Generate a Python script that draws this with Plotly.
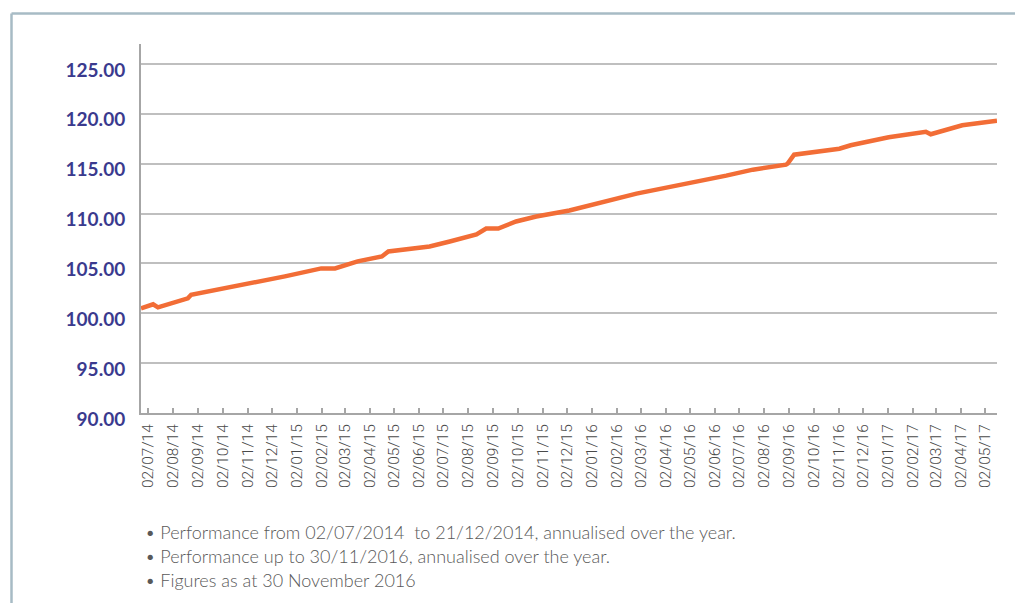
import plotly.graph_objects as go
import pandas as pd

# ---- data ----
dates = ["2014-06-23", "2014-07-08", "2014-07-14", "2014-08-20", "2014-08-24",
         "2014-12-10", "2014-12-18", "2015-02-01", "2015-02-18", "2015-03-18",
         "2015-04-17", "2015-04-25", "2015-06-15", "2015-07-10", "2015-08-12",
         "2015-08-24", "2015-09-08", "2015-09-30", "2015-10-25", "2015-12-05",
         "2016-02-26", "2016-06-16", "2016-07-19", "2016-08-29", "2016-08-31",
         "2016-09-08", "2016-11-03", "2016-11-17", "2017-01-03", "2017-02-18",
         "2017-02-24", "2017-04-04", "2017-05-17"]
values = [100.5, 100.9, 100.6, 101.5, 101.85,
          103.5, 103.7, 104.5, 104.5, 105.2,
          105.7, 106.2, 106.7, 107.2, 107.9,
          108.5, 108.5, 109.2, 109.7, 110.3,
          112.0, 113.8, 114.4, 114.9, 115.0,
          115.9, 116.5, 116.85, 117.65, 118.2,
          117.95, 118.85, 119.3]

tick_labels = ["02/07/14", "02/08/14", "02/09/14", "02/10/14", "02/11/14", "02/12/14",
               "02/01/15", "02/02/15", "02/03/15", "02/04/15", "02/05/15", "02/06/15",
               "02/07/15", "02/08/15", "02/09/15", "02/10/15", "02/11/15", "02/12/15",
               "02/01/16", "02/02/16", "02/03/16", "02/04/16", "02/05/16", "02/06/16",
               "02/07/16", "02/08/16", "02/09/16", "02/10/16", "02/11/16", "02/12/16",
               "02/01/17", "02/02/17", "02/03/17", "02/04/17", "02/05/17"]
y_ticks = [90, 95, 100, 105, 110, 115, 120, 125]

footnotes = [
    "• Performance from 02/07/2014\u00a0\u00a0to 21/12/2014, annualised over the year.",
    "• Performance up to 30/11/2016, annualised over the year.",
    "• Figures as at 30 November 2016",
]

tick_vals = [pd.to_datetime(t, format="%d/%m/%y") for t in tick_labels]

fig = go.Figure()
fig.add_trace(go.Scatter(
    x=pd.to_datetime(dates), y=values, mode="lines",
    line=dict(color="#F26D36", width=4.5),
    hoverinfo="skip", showlegend=False,
))

# page body has an 8px margin; figure is laid out in its own coordinates
OFF = 8
W, H = 1023 - OFF, 603 - OFF
L, R, T, B = 141 - OFF, 26, 44 - OFF, 190
pw = W - L - R
ph = H - T - B

fig.update_layout(
    width=W, height=H,
    margin=dict(l=L, r=R, t=T, b=B, pad=0),
    paper_bgcolor="white", plot_bgcolor="white",
    showlegend=False,
    xaxis=dict(
        type="date",
        range=["2014-06-23", "2017-05-17"],
        tickmode="array", tickvals=tick_vals, ticktext=tick_labels,
        tickangle=-90,
        ticks="inside", ticklen=5, tickwidth=1.5, tickcolor="#A6A6A6",
        showline=True, linecolor="#A6A6A6", linewidth=2,
        showgrid=False, zeroline=False,
        tickfont=dict(family="Roboto, sans-serif", size=15.5, color="#4A4A4A", weight=300),
        ticklabelstandoff=3,
        fixedrange=True,
    ),
    yaxis=dict(
        range=[90, 127],
        tickmode="array", tickvals=y_ticks,
        tickformat=".2f",
        showline=True, linecolor="#A6A6A6", linewidth=2,
        showgrid=True, gridcolor="#BFBFBF", gridwidth=1.5,
        zeroline=False, ticks="",
        tickfont=dict(family="Lato, sans-serif", size=19, color="#3A3A8E", weight="bold"),
        ticklabelstandoff=10,
        ticklabelshift=6,
        fixedrange=True,
    ),
)

# light frame (top and left)
fx = (11.5 - OFF - L) / pw
fy = (H - B - (13.5 - OFF)) / ph
fig.add_shape(type="line", xref="paper", yref="paper",
              x0=fx, x1=(W + 5 - L) / pw, y0=fy, y1=fy,
              line=dict(color="#A7BBC5", width=2.5))
fig.add_shape(type="line", xref="paper", yref="paper",
              x0=fx, x1=fx, y0=fy, y1=(H - B - H - 5) / ph,
              line=dict(color="#A7BBC5", width=2.5))

# footnotes
for i, txt in enumerate(footnotes):
    ypix = 532 + i * 24 - OFF
    fig.add_annotation(
        text=txt, xref="paper", yref="paper",
        x=(143 - OFF - L) / pw, y=(H - B - ypix) / ph,
        xanchor="left", yanchor="middle", showarrow=False,
        font=dict(family="Lato, sans-serif", size=18, color="#595959", weight=300),
    )

fig.write_html("out.html")
